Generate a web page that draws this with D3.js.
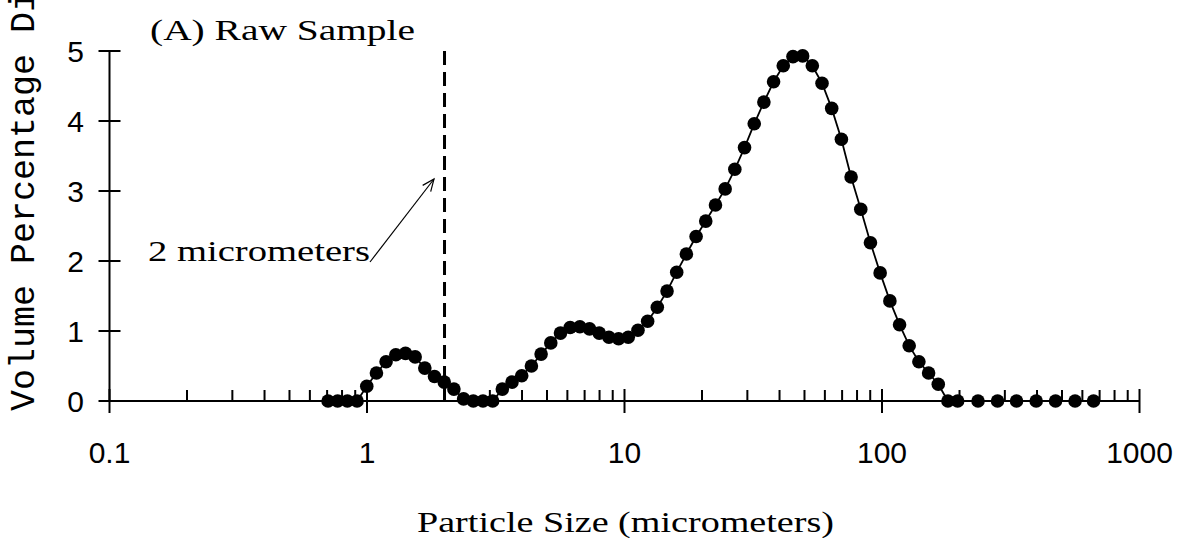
<!DOCTYPE html>
<html>
<head>
<meta charset="utf-8">
<script src="https://cdn.jsdelivr.net/npm/d3@7"></script>
<style>
  html, body { margin: 0; padding: 0; background: #fff; }
  svg { display: block; }
</style>
</head>
<body>
<script>
// Particle size (micrometers) for each point
const sizes = [0.706, 0.769, 0.839, 0.915, 0.998, 1.088, 1.186, 1.294, 1.411, 1.538,
  1.677, 1.829, 1.995, 2.175, 2.372, 2.587, 2.821, 3.076, 3.354, 3.658,
  3.989, 4.350, 4.744, 5.173, 5.641, 6.152, 6.708, 7.315, 7.977, 8.699,
  9.486, 10.34, 11.28, 12.30, 13.41, 14.63, 15.95, 17.39, 18.97, 20.68,
  22.56, 24.60, 26.82, 29.25, 31.90, 34.78, 37.93, 41.36, 45.10, 49.18,
  53.63, 58.49, 63.78, 69.55, 75.85, 82.71, 90.19, 98.35, 107.3, 117.0,
  127.5, 139.1, 151.7, 165.4, 180.3, 196.7, 236, 281, 333, 397, 472, 562, 663];
// Volume percentage for each point
const volumes = [0, 0, 0, 0, 0.21, 0.40, 0.56, 0.66, 0.68, 0.63,
  0.47, 0.35, 0.27, 0.17, 0.03, 0, 0, 0, 0.17, 0.27,
  0.36, 0.50, 0.67, 0.83, 0.97, 1.05, 1.06, 1.03, 0.97, 0.91,
  0.89, 0.91, 1.01, 1.14, 1.34, 1.57, 1.84, 2.10, 2.35, 2.57,
  2.80, 3.03, 3.31, 3.62, 3.96, 4.27, 4.56, 4.79, 4.92, 4.93,
  4.79, 4.54, 4.18, 3.74, 3.20, 2.74, 2.26, 1.83, 1.43, 1.09,
  0.79, 0.56, 0.40, 0.24, 0, 0, 0, 0, 0, 0, 0, 0, 0];
const xTickValues = [0.1, 1, 10, 100, 1000];
const xTickLabels = ["0.1", "1", "10", "100", "1000"];
const yTickValues = [0, 1, 2, 3, 4, 5];
const yTickLabels = ["0", "1", "2", "3", "4", "5"];
const cutoffSize = 2;
const panelTitle = "(A) Raw Sample";
const cutoffLabel = "2 micrometers";
const xTitle = "Particle Size (micrometers)";
const yTitle = "Volume Percentage Distribution";

const W = 1188, H = 538;
const svg = d3.select("body").append("svg").attr("width", W).attr("height", H);

const x = d3.scaleLog().domain([0.1, 1000]).range([109.5, 1139.5]);
const y = d3.scaleLinear().domain([0, 5]).range([401, 51]);

const serif = "'Liberation Serif', 'Times New Roman', serif";
const sans = "'Liberation Sans', Arial, sans-serif";
const mono = "'Liberation Mono', 'Courier New', monospace";

// X axis
const gx = svg.append("g").attr("transform", `translate(0,${y(0)})`);
gx.append("line").attr("x1", x(0.1)).attr("x2", x(1000)).attr("stroke", "#000").attr("stroke-width", 2);
const minor = x.ticks().filter(v => !xTickValues.some(t => Math.abs(t - v) / t < 1e-6));
gx.selectAll("line.minor").data(minor).join("line")
  .attr("class", "minor")
  .attr("x1", d => x(d)).attr("x2", d => x(d))
  .attr("y1", 0).attr("y2", -11)
  .attr("stroke", "#000").attr("stroke-width", 2);
gx.selectAll("line.major").data(xTickValues).join("line")
  .attr("class", "major")
  .attr("x1", d => x(d)).attr("x2", d => x(d))
  .attr("y1", -12).attr("y2", 12)
  .attr("stroke", "#000").attr("stroke-width", 2);
svg.selectAll("text.xtick").data(xTickValues).join("text")
  .attr("class", "xtick")
  .attr("x", d => x(d)).attr("y", 463)
  .attr("text-anchor", "middle")
  .attr("font-family", sans).attr("font-size", 30)
  .text((d, i) => xTickLabels[i]);

// Y axis
const gy = svg.append("g").attr("transform", `translate(${x(0.1)},0)`);
gy.append("line").attr("y1", y(0)).attr("y2", y(5)).attr("stroke", "#000").attr("stroke-width", 2);
gy.selectAll("line.ytick").data(yTickValues).join("line")
  .attr("class", "ytick")
  .attr("x1", -11).attr("x2", 11)
  .attr("y1", d => y(d)).attr("y2", d => y(d))
  .attr("stroke", "#000").attr("stroke-width", 2);
svg.selectAll("text.ytick").data(yTickValues).join("text")
  .attr("class", "ytick")
  .attr("x", 84).attr("y", d => y(d) + 11)
  .attr("text-anchor", "end")
  .attr("font-family", sans).attr("font-size", 30)
  .text((d, i) => yTickLabels[i]);

// Cutoff dashed line
svg.append("line")
  .attr("x1", x(cutoffSize)).attr("x2", x(cutoffSize))
  .attr("y1", y(5)).attr("y2", y(0))
  .attr("stroke", "#000").attr("stroke-width", 3)
  .attr("stroke-dasharray", "14,7");

// Data line and markers
const pts = sizes.map((s, i) => [s, volumes[i]]);
svg.append("path")
  .datum(pts)
  .attr("fill", "none").attr("stroke", "#000").attr("stroke-width", 1.8)
  .attr("d", d3.line().x(d => x(d[0])).y(d => y(d[1])));
svg.selectAll("circle.pt").data(pts).join("circle")
  .attr("class", "pt")
  .attr("cx", d => x(d[0])).attr("cy", d => y(d[1]))
  .attr("r", 6.8).attr("fill", "#000");

// Annotation arrow
const ax0 = 370, ay0 = 262, ax1 = 434, ay1 = 179;
svg.append("line").attr("x1", ax0).attr("y1", ay0).attr("x2", ax1).attr("y2", ay1)
  .attr("stroke", "#000").attr("stroke-width", 1.2);
const ang = Math.atan2(ay1 - ay0, ax1 - ax0);
const hl = 13, ha = 0.4;
svg.append("path")
  .attr("d", `M${ax1 - hl * Math.cos(ang - ha)},${ay1 - hl * Math.sin(ang - ha)} L${ax1},${ay1} L${ax1 - hl * Math.cos(ang + ha)},${ay1 - hl * Math.sin(ang + ha)}`)
  .attr("fill", "none").attr("stroke", "#000").attr("stroke-width", 1.2);

svg.append("text")
  .attr("x", 148).attr("y", 261)
  .attr("font-family", serif).attr("font-size", 30)
  .attr("textLength", 222).attr("lengthAdjust", "spacingAndGlyphs")
  .text(cutoffLabel);

// Panel title
svg.append("text")
  .attr("x", 150).attr("y", 40)
  .attr("font-family", serif).attr("font-size", 30)
  .attr("textLength", 265).attr("lengthAdjust", "spacingAndGlyphs")
  .text(panelTitle);

// Axis titles
svg.append("text")
  .attr("x", 417).attr("y", 532)
  .attr("font-family", serif).attr("font-size", 30)
  .attr("textLength", 417).attr("lengthAdjust", "spacingAndGlyphs")
  .text(xTitle);

svg.append("text")
  .attr("transform", "translate(34,411) rotate(-90)")
  .attr("font-family", mono).attr("font-size", 35)
  .text(yTitle);
</script>
</body>
</html>
